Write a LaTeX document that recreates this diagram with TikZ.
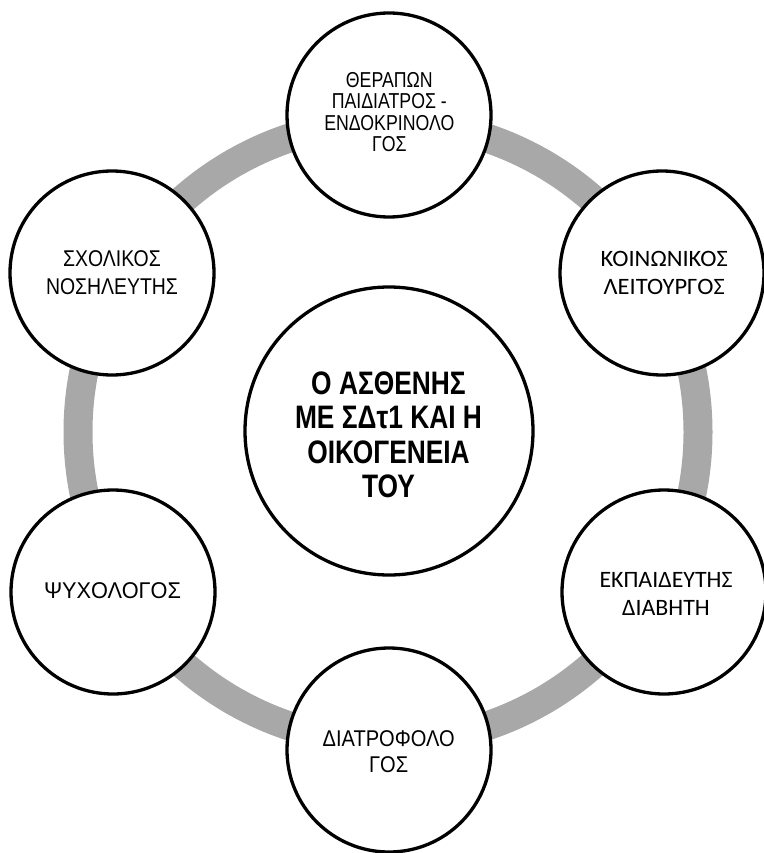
\documentclass[tikz,border=0pt]{standalone}
\usepackage{graphicx}
\usepackage{fontspec}
\setmainfont{Liberation Sans}
\newfontfamily\arialf{Liberation Sans}
\newfontfamily\calib{Carlito}
\definecolor{ringgray}{RGB}{168,168,168}
\newlength\fitlen
\newsavebox\fitbox
% #1 macro for ratio, #2 font, #3 target width (pt), #4 reference line
\newcommand\getratio[4]{\sbox\fitbox{#2#4}\fitlen=\wd\fitbox\pgfmathsetmacro#1{#3/(\the\fitlen)}}
\newcommand\sx[2]{\scalebox{#1}[1]{#2}}
\tikzset{
  outer/.style={circle, draw=black, line width=3.3pt, fill=white, minimum size=204pt, inner sep=0pt},
  inner/.style={circle, draw=black, line width=3.3pt, fill=white, minimum size=288pt, inner sep=0pt},
  txt/.style={align=center, inner sep=0pt, text=black}
}
\newcommand\fc{\arialf\bfseries\fontsize{32.5}{34.5}\selectfont}
\newcommand\fa{\arialf\fontsize{21.6}{21.5}\selectfont}
\newcommand\fb{\calib\fontsize{23.5}{28.3}\selectfont}
\newcommand\fd{\arialf\fontsize{22.8}{25.7}\selectfont}
\newcommand\fe{\arialf\fontsize{22.8}{28}\selectfont}
\begin{document}
\getratio\rc{\fc}{187}{ΜΕ ΣΔτ1 ΚΑΙ Η}%
\getratio\ra{\fa}{130}{ΕΝΔΟΚΡΙΝΟΛΟ}%
\getratio\rb{\fb}{127}{ΚΟΙΝΩΝΙΚΟΣ}%
\getratio\rbb{\fb}{133}{ΕΚΠΑΙΔΕΥΤΗΣ}%
\getratio\rd{\fd}{132}{ΔΙΑΤΡΟΦΟΛΟ}%
\getratio\rp{\fd}{137}{ΨΥΧΟΛΟΓΟΣ}%
\getratio\re{\fe}{132}{ΝΟΣΗΛΕΥΤΗΣ}%
\begin{tikzpicture}[x=1pt,y=-1pt]
\useasboundingbox (0,0) rectangle (763,853);
\draw[ringgray, line width=29pt] (388,432) circle (310);
\node[inner] (cc) at (389,431) {};
\node[outer] (c1) at (389,115) {};
\node[outer] (c2) at (662,273) {};
\node[outer] (c3) at (664,592) {};
\node[outer] (c4) at (389,750) {};
\node[outer] (c5) at (113,592) {};
\node[outer] (c6) at (112,273) {};
\node[txt, font=\fc] (tc) at (388.5,434.8) {\sx{\rc}{Ο ΑΣΘΕΝΗΣ}\\\sx{\rc}{ΜΕ ΣΔτ1 ΚΑΙ Η}\\\sx{\rc}{ΟΙΚΟΓΕΝΕΙΑ}\\\sx{\rc}{ΤΟΥ}};
\node[txt, font=\fa] (t1) at (389.3,112.2) {\sx{\ra}{ΘΕΡΑΠΩΝ}\\\sx{\ra}{ΠΑΙΔΙΑΤΡΟΣ -}\\\sx{\ra}{ΕΝΔΟΚΡΙΝΟΛΟ}\\\sx{\ra}{ΓΟΣ}};
\node[txt, font=\fb] (t2) at (664.2,273.2) {\sx{\rb}{ΚΟΙΝΩΝΙΚΟΣ}\\\sx{\rb}{ΛΕΙΤΟΥΡΓΟΣ}};
\node[txt, font=\fb] (t3) at (666,594) {\sx{\rbb}{ΕΚΠΑΙΔΕΥΤΗΣ}\\\sx{\rbb}{ΔΙΑΒΗΤΗ}};
\node[txt, font=\fd] (t4) at (388.7,751.9) {\sx{\rd}{ΔΙΑΤΡΟΦΟΛΟ}\\\sx{\rd}{ΓΟΣ}};
\node[txt, font=\fd] (t5) at (112.5,591) {\sx{\rp}{ΨΥΧΟΛΟΓΟΣ}};
\node[txt, font=\fe] (t6) at (112,273.1) {\sx{\re}{ΣΧΟΛΙΚΟΣ}\\\sx{\re}{ΝΟΣΗΛΕΥΤΗΣ}};
\end{tikzpicture}
\end{document}
